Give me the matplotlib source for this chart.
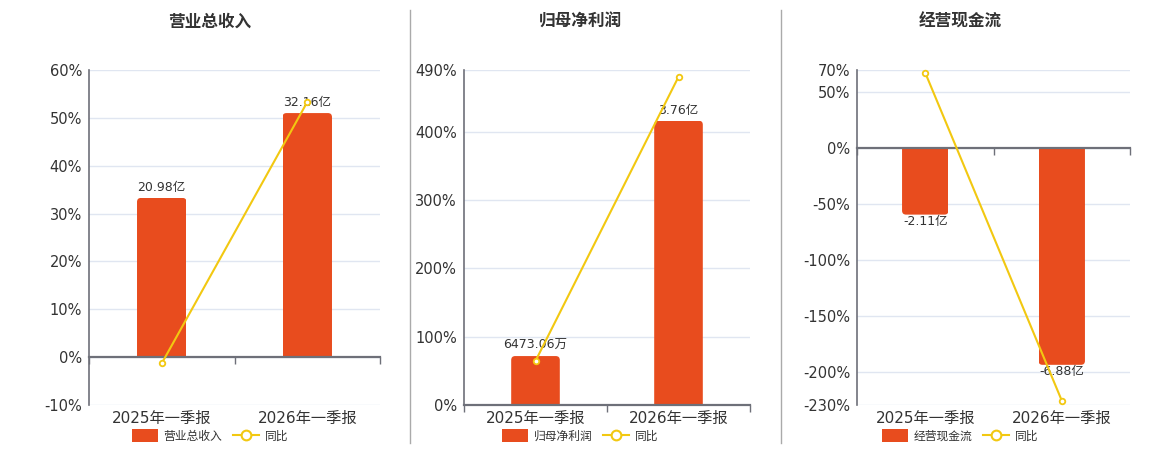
import matplotlib
matplotlib.use('Agg')
import matplotlib.pyplot as plt
import numpy as np
from matplotlib.patches import FancyBboxPatch, Patch, Rectangle
from matplotlib.lines import Line2D

plt.rcParams['font.family'] = ['DejaVu Sans', 'Noto Sans CJK SC']
plt.rcParams['axes.unicode_minus'] = False

categories = ['2025年一季报', '2026年一季报']

titles = ['营业总收入', '归母净利润', '经营现金流']
bar_values = [
    [20.98, 32.16],        # 亿
    [0.647306, 3.76],
    [-2.11, -6.88],
]
yoy_values = [
    [-1.3, 53.3],
    [64.4, 480.0],
    [67.5, -226.0],
]
yoy_ticks = [
    [-10, 0, 10, 20, 30, 40, 50, 60],
    [0, 100, 200, 300, 400, 490],
    [-230, -200, -150, -100, -50, 0, 50, 70],
]

BAR_COLOR = '#E84C1E'
LINE_COLOR = '#F2C811'
AXIS_COLOR = '#6E7079'
GRID_COLOR = '#E0E6F1'
TEXT_COLOR = '#333333'

W, H = 1160, 450
# panel layout in pixels: (axes left, axes right, panel center)
panels = [(89, 380, 210), (464, 750, 580), (857, 1130, 960)]
ax_top, ax_bottom = 70, 405
# bar units per percent on the hidden bar axis
bar_scale = [0.6306, 0.009043, 0.03546]


def fmt_amount(v):
    if abs(v) < 1:
        return f'{v * 10000:.2f}万'
    return f'{v:.2f}亿'


def round_bars(ax, bars, r_px=4):
    # rounded far end, square end at zero (clipped)
    xr = np.diff(ax.get_xlim())[0] / ax.bbox.width
    yr = np.diff(ax.get_ylim())[0] / ax.bbox.height
    for b in bars:
        x, w, h = b.get_x(), b.get_width(), b.get_height()
        ext = 2 * r_px * yr
        if h >= 0:
            y0, hh = -ext, h + ext
        else:
            y0, hh = h, -h + ext
        p = FancyBboxPatch((x, y0), w, hh,
                           boxstyle=f'round,pad=0,rounding_size={r_px * xr}',
                           mutation_aspect=yr / xr,
                           fc=BAR_COLOR, ec='none', zorder=1)
        ax.add_patch(p)
        clip = Rectangle((x, min(0, h)), w, abs(h), transform=ax.transData)
        p.set_clip_path(clip)
        b.set_visible(False)


fig = plt.figure(figsize=(W / 100, H / 100), dpi=100)

for i in range(3):
    left, right, cx = panels[i]
    ax = fig.add_axes([left / W, 1 - ax_bottom / H, (right - left) / W, (ax_bottom - ax_top) / H])
    ax2 = ax.twinx()
    ax2.xaxis.set_visible(True)

    ticks = yoy_ticks[i]
    ylim = (min(ticks), max(ticks))
    ax.set_ylim(ylim)
    ax2.set_ylim(ylim[0] * bar_scale[i], ylim[1] * bar_scale[i])
    ax.set_xlim(-0.5, 1.5)

    x = np.arange(len(categories))
    bars = ax2.bar(x, bar_values[i], width=0.34, color=BAR_COLOR, zorder=1)
    round_bars(ax2, bars)

    for xi, v in zip(x, bar_values[i]):
        if v >= 0:
            ax2.annotate(fmt_amount(v), (xi, v), xytext=(0, 3), textcoords='offset points',
                         ha='center', va='bottom', fontsize=9, color=TEXT_COLOR, zorder=3)
        else:
            ax2.annotate(fmt_amount(v), (xi, v), xytext=(0, 0), textcoords='offset points',
                         ha='center', va='top', fontsize=9, color=TEXT_COLOR, zorder=3)

    ax2.plot(x, yoy_values[i], transform=ax.transData, color=LINE_COLOR, lw=1.5,
             marker='o', ms=4, mfc='white', mec=LINE_COLOR, mew=1.3, zorder=4, clip_on=False)

    # percent axis
    ax.set_yticks(ticks)
    ax.set_yticklabels([f'{t}%' for t in ticks])
    ax.tick_params(axis='y', length=0, pad=5, labelsize=10.5, labelcolor=TEXT_COLOR)
    ax.grid(axis='y', color=GRID_COLOR, lw=1)
    for s in ['top', 'right', 'bottom']:
        ax.spines[s].set_visible(False)
    ax.spines['left'].set_color(AXIS_COLOR)
    ax.spines['left'].set_linewidth(1.2)

    ax.set_xticks(x)
    ax.set_xticklabels(categories)
    ax.set_xticks([-0.5, 0.5, 1.5], minor=True)
    ax.tick_params(axis='x', which='both', length=0, labelsize=11, labelcolor=TEXT_COLOR, pad=4)

    # zero line with category ticks
    for s in ['top', 'right', 'left']:
        ax2.spines[s].set_visible(False)
    ax2.spines['bottom'].set_position(('data', 0))
    ax2.spines['bottom'].set_color(AXIS_COLOR)
    ax2.spines['bottom'].set_linewidth(1.6)
    ax2.spines['bottom'].set_zorder(2.5)
    ax2.tick_params(axis='x', which='major', length=0, labelbottom=False)
    ax2.tick_params(axis='x', which='minor', length=5, width=1, color=AXIS_COLOR,
                    direction='out', bottom=True)
    ax2.tick_params(axis='y', right=False, labelright=False)

    fig.text(cx / W, 1 - 22 / H, titles[i], ha='center', va='center',
             fontsize=12, fontweight='bold', color=TEXT_COLOR)

    handles = [Patch(facecolor=BAR_COLOR, edgecolor='none', label=titles[i]),
               Line2D([], [], color=LINE_COLOR, lw=1.5, marker='o', ms=7,
                      mfc='white', mec=LINE_COLOR, mew=1.5, label='同比')]
    ax.legend(handles=handles, loc='center', bbox_to_anchor=(cx / W, 1 - 436 / H),
              bbox_transform=fig.transFigure, ncol=2, frameon=False, fontsize=8.5,
              handlelength=2.2, handleheight=1.2, handletextpad=0.5, columnspacing=0.9,
              labelcolor=TEXT_COLOR, borderpad=0)

for sx in [410, 781]:
    fig.add_artist(Line2D([sx / W, sx / W], [1 - 10 / H, 1 - 443 / H],
                          color='#AAAAAA', lw=1, transform=fig.transFigure))

fig.savefig('out.png', dpi=100)
